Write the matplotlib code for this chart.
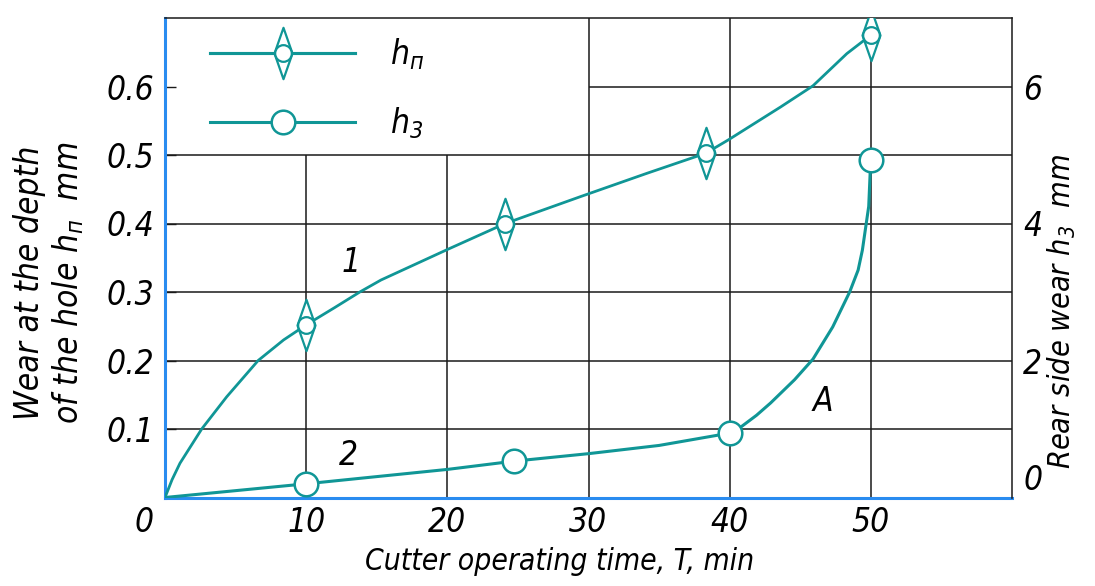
import matplotlib
matplotlib.use('Agg')
import matplotlib.pyplot as plt
import matplotlib.transforms as mtransforms
from matplotlib import font_manager
from matplotlib.path import Path
from matplotlib.lines import Line2D

# curve 1 - wear at the depth of the hole h_n, mm (left axis)
t_hn_line = [0, 0.5, 1.06, 2.6, 4.37, 6.6, 8.4, 10, 12, 13.8, 15.3, 20, 24.1,
             29.4, 34.1, 38.3, 39.9, 43.6, 45.9, 48.3, 50]
hn_line = [0, 0.026, 0.05, 0.1, 0.147, 0.2, 0.23, 0.252, 0.277, 0.3, 0.3175, 0.362, 0.40,
           0.439, 0.473, 0.5025, 0.522, 0.570, 0.601, 0.648, 0.675]
t_hn_pts = [10, 24.1, 38.3, 50]
hn_pts = [0.252, 0.40, 0.5025, 0.675]

# curve 2 - rear side wear h_3, mm (right axis)
t_h3_line = [0, 10, 20, 24.7, 30, 35, 40, 40.8, 41.9, 42.9, 44.6, 45.9, 47.3,
             48.5, 49.1, 49.4, 49.85, 49.95, 50]
h3_line = [0, 0.2, 0.41, 0.53, 0.64, 0.76, 0.94, 1.03, 1.2, 1.38, 1.72, 2.02, 2.49,
           3.0, 3.32, 3.61, 4.25, 4.73, 4.93]
t_h3_pts = [10, 24.7, 40, 50]
h3_pts = [0.2, 0.53, 0.94, 4.93]

x_ticks = [0, 10, 20, 30, 40, 50]
left_ticks = [0.1, 0.2, 0.3, 0.4, 0.5, 0.6]
right_ticks = [0, 2, 4, 6]

TEAL = '#109696'
BLUE = '#2a8cf0'
GRID = '#1a1a1a'


def pick_narrow_font():
    """Find a narrow italic face, the chart uses a thin drafting font"""
    best = None
    for f in font_manager.fontManager.ttflist:
        fn = f.fname.lower()
        narrow = 'narrow' in fn or 'condensed' in fn or 'condensed' in str(f.stretch)
        if not narrow or f.style not in ('italic', 'oblique'):
            continue
        if 'mono' in fn or 'bold' in fn or 'serif' in f.name.lower():
            continue
        if best is None or 'liberation' in fn:
            best = f
    return best


face = pick_narrow_font()
if face is not None:
    fam = face.name
    plt.rcParams['font.stretch'] = face.stretch
    math_spec = f'{fam}:{face.style}'
else:
    fam = 'DejaVu Sans'
    math_spec = 'DejaVu Sans:italic'

plt.rcParams['font.family'] = [fam, 'DejaVu Sans']
plt.rcParams['font.style'] = 'italic'
plt.rcParams['mathtext.fontset'] = 'custom'
plt.rcParams['mathtext.it'] = math_spec
plt.rcParams['mathtext.rm'] = math_spec
plt.rcParams['mathtext.default'] = 'it'

fig = plt.figure(figsize=(10.95, 5.86), dpi=100)
ax = fig.add_axes([165 / 1095, 88.5 / 586, 847 / 1095, 479.5 / 586])
ax2 = ax.twinx()

ax.set_xlim(0, 60)
ax.set_ylim(0, 0.7)
ax2.set_ylim(0, 7)

# grid, drawn by hand because the legend corner is left empty
ax.hlines(left_ticks[:5], 0, 60, color=GRID, lw=1.1, zorder=1)
ax.hlines(0.6, 30, 60, color=GRID, lw=1.1, zorder=1)
ax.vlines([10, 20], 0, 0.5, color=GRID, lw=1.1, zorder=1)
ax.vlines([30, 40, 50], 0, 0.7, color=GRID, lw=1.1, zorder=1)

# tall diamond with a circle in it
diamond = Path([(0, 1), (0.35, 0), (0, -1), (-0.35, 0), (0, 1)],
               [Path.MOVETO, Path.LINETO, Path.LINETO, Path.LINETO, Path.CLOSEPOLY])

ax.plot(t_hn_line, hn_line, color=TEAL, lw=2.0, zorder=3)
ax.plot(t_hn_pts, hn_pts, ls='none', marker=diamond, ms=37, mfc='white',
        mec=TEAL, mew=1.6, zorder=4)
ax.plot(t_hn_pts, hn_pts, ls='none', marker='o', ms=12, mfc='white',
        mec=TEAL, mew=1.6, zorder=5)

ax2.plot(t_h3_line, h3_line, color=TEAL, lw=2.2, zorder=3)
ax2.plot(t_h3_pts, h3_pts, ls='none', marker='o', ms=17, mfc='white',
         mec=TEAL, mew=1.8, zorder=4)

# legend
h_dia = Line2D([], [], color=TEAL, lw=2.2, marker=diamond, ms=37, mfc='white',
               mec=TEAL, mew=1.6)
h_cir = Line2D([], [], color=TEAL, lw=2.2, marker='o', ms=12, mfc='white',
               mec=TEAL, mew=1.6)
h_3 = Line2D([], [], color=TEAL, lw=2.2, marker='o', ms=17, mfc='white',
             mec=TEAL, mew=1.8)
ax.legend([(h_dia, h_cir), h_3], ['$h_{п}$', '$h_{3}$'], loc='upper left',
          bbox_to_anchor=(45 / 847, 0.962), frameon=False, numpoints=1,
          fontsize=24, handlelength=4.35, handletextpad=1.05, labelspacing=1.0,
          borderpad=0, borderaxespad=0)

# curve numbers
ax.text(13.2, 0.343, '1', fontsize=24, ha='center', va='center')
ax.text(13.0, 0.062, '2', fontsize=24, ha='center', va='center')
ax.text(46.6, 0.14, 'A', fontsize=24, ha='center', va='center')

# spines
for s in ['left', 'bottom']:
    ax.spines[s].set_color(BLUE)
    ax.spines[s].set_linewidth(2.2)
ax.spines['top'].set_color(GRID)
ax.spines['top'].set_linewidth(1.1)
ax.spines['right'].set_visible(False)
for s in ['left', 'bottom', 'top']:
    ax2.spines[s].set_visible(False)
ax2.spines['right'].set_color(GRID)
ax2.spines['right'].set_linewidth(1.1)

# ticks
ax.set_xticks(x_ticks)
ax.set_xticklabels([str(v) for v in x_ticks])
ax.tick_params(axis='x', length=0, pad=6, labelsize=24)
lab0 = ax.get_xticklabels()[0]
lab0.set_ha('right')
lab0.set_transform(lab0.get_transform() +
                   mtransforms.ScaledTranslation(-8 / 72, 0, fig.dpi_scale_trans))

ax.set_yticks(left_ticks)
ax.set_yticklabels([f'{v:.1f}' for v in left_ticks])
ax.tick_params(axis='y', direction='in', length=8, width=1, color=GRID,
               labelsize=24, pad=8)

ax2.set_yticks(right_ticks)
ax2.set_yticklabels([str(v) for v in right_ticks])
ax2.tick_params(axis='y', length=0, pad=8, labelsize=24)
ax2.get_yticklabels()[0].set_va('bottom')

# axis titles, placed where the reference has them
ax.set_xlabel('Cutter operating time, T, min', fontsize=21.5, va='center')
ax.xaxis.set_label_coords(0.466, -0.1345)
ax.set_ylabel('Wear at the depth\nof the hole $h_{п}$  mm', fontsize=24,
              linespacing=1.15, va='center')
ax.yaxis.set_label_coords(-0.136, 0.447)
ax2.set_ylabel('Rear side wear $h_{3}$  mm', fontsize=22, va='center')
ax2.yaxis.set_label_coords(1.059, 0.389)

fig.savefig('out.png', dpi=100, facecolor='white')
